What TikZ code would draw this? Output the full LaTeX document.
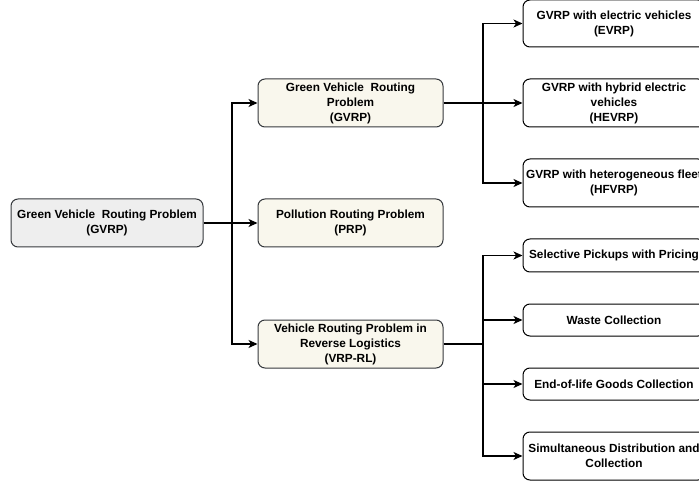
\documentclass[tikz,border=0pt]{standalone}
\usepackage{fontspec}
\setmainfont{Liberation Sans}
\usetikzlibrary{arrows.meta}
\definecolor{rootfill}{HTML}{EEEEEE}
\definecolor{midfill}{HTML}{F9F7ED}
\definecolor{edgegray}{HTML}{36393D}
\begin{document}
\begin{tikzpicture}[x=1pt,y=-1pt,
  box/.style={draw, rounded corners=7pt, line width=1pt, align=center,
    font=\fontsize{11.8}{15}\selectfont\bfseries, inner sep=0pt},
  rootbox/.style={box, fill=rootfill, draw=edgegray, minimum width=192pt, minimum height=48pt},
  midbox/.style={box, fill=midfill, draw=edgegray, minimum width=185pt, minimum height=48pt},
  leafbox/.style={box, fill=white, draw=black, minimum width=182pt},
  conn/.style={line width=1.3pt, -{Stealth[length=9pt,width=8pt,inset=2.5pt]}},
  link/.style={line width=1.5pt}]
\useasboundingbox (0,0) rectangle (699,481);
\clip (0,0) rectangle (699,481);

\node[rootbox] (root) at (107,223) {Green Vehicle\ \ Routing Problem\\(GVRP)};

\node[midbox] (gvrp) at (350.5,103) {Green Vehicle\ \ Routing\\Problem\\(GVRP)};
\node[midbox] (prp) at (350.5,223) {Pollution Routing Problem\\(PRP)};
\node[midbox] (vrprl) at (350.5,344) {Vehicle Routing Problem in\\Reverse Logistics\\(VRP-RL)};

\node[leafbox, minimum height=47pt] (evrp) at (614,23.5) {GVRP with electric vehicles\\(EVRP)};
\node[leafbox, minimum height=48pt] (hevrp) at (614,103) {GVRP with hybrid electric\\vehicles\\(HEVRP)};
\node[leafbox, minimum height=48pt] (hfvrp) at (614,183) {GVRP with heterogeneous fleet\\(HFVRP)};
\node[leafbox, minimum height=33pt] (sel) at (614,255.5) {Selective Pickups with Pricing};
\node[leafbox, minimum height=32pt] (waste) at (614,320) {Waste Collection};
\node[leafbox, minimum height=32pt] (eol) at (614,384) {End-of-life Goods Collection};
\node[leafbox, minimum height=48pt] (sdc) at (614,456) {Simultaneous Distribution and\\Collection};

\coordinate (j1) at (232,223);
\coordinate (j2) at (483,103);
\coordinate (j3) at (483,344);

\draw[link, line width=1.8pt] (root.east) -- (j1);
\draw[conn] (j1) |- (gvrp.west);
\draw[conn] (j1) -- (prp.west);
\draw[conn] (j1) |- (vrprl.west);

\draw[link] (gvrp.east) -- (j2);
\draw[conn] (j2) |- (evrp.west);
\draw[conn] (j2) -- (hevrp.west);
\draw[conn] (j2) |- (hfvrp.west);

\draw[link] (vrprl.east) -- (j3);
\draw[conn] (j3) |- (sel.west);
\draw[conn] (j3) |- (waste.west);
\draw[conn] (j3) |- (eol.west);
\draw[conn] (j3) |- (sdc.west);
\end{tikzpicture}
\end{document}
